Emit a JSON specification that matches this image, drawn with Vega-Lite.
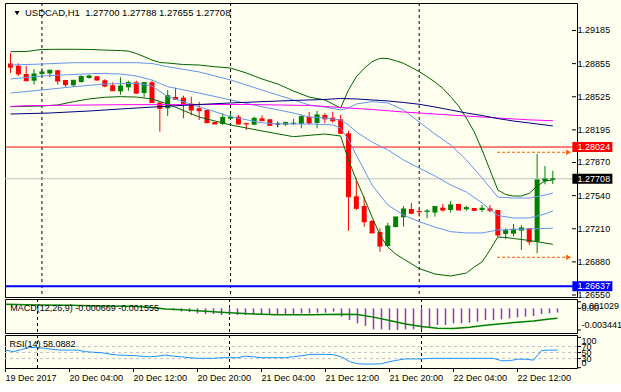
{
"$schema": "https://vega.github.io/schema/vega-lite/v6.json",
"background": "#FFFFF0",
"padding": {"left": 2, "top": 2, "right": 0, "bottom": 0},
"bounds": "flush",
"spacing": 2,
"config": {
  "view": {"stroke": "#000000", "strokeWidth": 1}
},
"datasets": {
  "seps": [{"i": 4}, {"i": 28}, {"i": 52}],
  "candles": [
    {"i":0,"o":1.28856,"h":1.28961,"l":1.28762,"c":1.28821},
    {"i":1,"o":1.28834,"h":1.28858,"l":1.28732,"c":1.28752},
    {"i":2,"o":1.28752,"h":1.28834,"l":1.28679,"c":1.28685},
    {"i":3,"o":1.28685,"h":1.28801,"l":1.28645,"c":1.28752},
    {"i":4,"o":1.28752,"h":1.28808,"l":1.28719,"c":1.28772},
    {"i":5,"o":1.28757,"h":1.28792,"l":1.28719,"c":1.28789},
    {"i":6,"o":1.28789,"h":1.28792,"l":1.28647,"c":1.28682},
    {"i":7,"o":1.28692,"h":1.28694,"l":1.28625,"c":1.28645},
    {"i":8,"o":1.28639,"h":1.28691,"l":1.28625,"c":1.28689},
    {"i":9,"o":1.28672,"h":1.28739,"l":1.28665,"c":1.28725},
    {"i":10,"o":1.28712,"h":1.28745,"l":1.28705,"c":1.28732},
    {"i":11,"o":1.28729,"h":1.28731,"l":1.28685,"c":1.28692},
    {"i":12,"o":1.28689,"h":1.28699,"l":1.28619,"c":1.28632},
    {"i":13,"o":1.28639,"h":1.28669,"l":1.28584,"c":1.28585},
    {"i":14,"o":1.28579,"h":1.28719,"l":1.28545,"c":1.28632},
    {"i":15,"o":1.28619,"h":1.28685,"l":1.28585,"c":1.28665},
    {"i":16,"o":1.28669,"h":1.28685,"l":1.28552,"c":1.28562},
    {"i":17,"o":1.28562,"h":1.28666,"l":1.28520,"c":1.28665},
    {"i":18,"o":1.28669,"h":1.28685,"l":1.28467,"c":1.28468},
    {"i":19,"o":1.28468,"h":1.28470,"l":1.28177,"c":1.28410},
    {"i":20,"o":1.28410,"h":1.28592,"l":1.28333,"c":1.28535},
    {"i":21,"o":1.28523,"h":1.28615,"l":1.28493,"c":1.28500},
    {"i":22,"o":1.28516,"h":1.28536,"l":1.28310,"c":1.28460},
    {"i":23,"o":1.28456,"h":1.28526,"l":1.28340,"c":1.28393},
    {"i":24,"o":1.28410,"h":1.28473,"l":1.28293,"c":1.28386},
    {"i":25,"o":1.28393,"h":1.28394,"l":1.28261,"c":1.28267},
    {"i":26,"o":1.28274,"h":1.28275,"l":1.28253,"c":1.28254},
    {"i":27,"o":1.28254,"h":1.28360,"l":1.28241,"c":1.28320},
    {"i":28,"o":1.28306,"h":1.28360,"l":1.28300,"c":1.28323},
    {"i":29,"o":1.28326,"h":1.28344,"l":1.28244,"c":1.28254},
    {"i":30,"o":1.28261,"h":1.28262,"l":1.28194,"c":1.28254},
    {"i":31,"o":1.28247,"h":1.28326,"l":1.28241,"c":1.28310},
    {"i":32,"o":1.28310,"h":1.28340,"l":1.28285,"c":1.28286},
    {"i":33,"o":1.28300,"h":1.28301,"l":1.28234,"c":1.28241},
    {"i":34,"o":1.28254,"h":1.28277,"l":1.28221,"c":1.28254},
    {"i":35,"o":1.28247,"h":1.28277,"l":1.28234,"c":1.28267},
    {"i":36,"o":1.28254,"h":1.28304,"l":1.28244,"c":1.28261},
    {"i":37,"o":1.28254,"h":1.28344,"l":1.28211,"c":1.28326},
    {"i":38,"o":1.28326,"h":1.28373,"l":1.28244,"c":1.28264},
    {"i":39,"o":1.28264,"h":1.28383,"l":1.28211,"c":1.28344},
    {"i":40,"o":1.28344,"h":1.28360,"l":1.28261,"c":1.28306},
    {"i":41,"o":1.28316,"h":1.28376,"l":1.28267,"c":1.28286},
    {"i":42,"o":1.28300,"h":1.28344,"l":1.28160,"c":1.28161},
    {"i":43,"o":1.28161,"h":1.28187,"l":1.27191,"c":1.27529},
    {"i":44,"o":1.27533,"h":1.27719,"l":1.27397,"c":1.27414},
    {"i":45,"o":1.27437,"h":1.27529,"l":1.27231,"c":1.27280},
    {"i":46,"o":1.27287,"h":1.27297,"l":1.27167,"c":1.27168},
    {"i":47,"o":1.27178,"h":1.27214,"l":1.26981,"c":1.27038},
    {"i":48,"o":1.27038,"h":1.27270,"l":1.27037,"c":1.27237},
    {"i":49,"o":1.27227,"h":1.27330,"l":1.27224,"c":1.27327},
    {"i":50,"o":1.27324,"h":1.27436,"l":1.27231,"c":1.27407},
    {"i":51,"o":1.27407,"h":1.27467,"l":1.27363,"c":1.27364},
    {"i":52,"o":1.27387,"h":1.27414,"l":1.27330,"c":1.27380},
    {"i":53,"o":1.27380,"h":1.27404,"l":1.27314,"c":1.27387},
    {"i":54,"o":1.27372,"h":1.27437,"l":1.27330,"c":1.27430},
    {"i":55,"o":1.27420,"h":1.27457,"l":1.27380,"c":1.27397},
    {"i":56,"o":1.27397,"h":1.27486,"l":1.27370,"c":1.27447},
    {"i":57,"o":1.27457,"h":1.27458,"l":1.27396,"c":1.27397},
    {"i":58,"o":1.27404,"h":1.27437,"l":1.27390,"c":1.27420},
    {"i":59,"o":1.27417,"h":1.27418,"l":1.27387,"c":1.27394},
    {"i":60,"o":1.27397,"h":1.27447,"l":1.27374,"c":1.27414},
    {"i":61,"o":1.27414,"h":1.27447,"l":1.27374,"c":1.27394},
    {"i":62,"o":1.27397,"h":1.27398,"l":1.27131,"c":1.27148},
    {"i":63,"o":1.27158,"h":1.27215,"l":1.27105,"c":1.27191},
    {"i":64,"o":1.27161,"h":1.27258,"l":1.27131,"c":1.27205},
    {"i":65,"o":1.27191,"h":1.27248,"l":1.26998,"c":1.27218},
    {"i":66,"o":1.27215,"h":1.27216,"l":1.27048,"c":1.27081},
    {"i":67,"o":1.27081,"h":1.27955,"l":1.26966,"c":1.27696},
    {"i":68,"o":1.27683,"h":1.27835,"l":1.27653,"c":1.27706},
    {"i":69,"o":1.27700,"h":1.27788,"l":1.27655,"c":1.27708}
  ],
  "lines": [
    {"s":"u2","i":0,"v":1.28974},{"s":"u2","i":2,"v":1.28976},{"s":"u2","i":4,"v":1.28996},{"s":"u2","i":6,"v":1.28998},{"s":"u2","i":8,"v":1.28998},{"s":"u2","i":10,"v":1.28996},{"s":"u2","i":12,"v":1.28990},{"s":"u2","i":14,"v":1.28985},{"s":"u2","i":15,"v":1.28980},{"s":"u2","i":16,"v":1.28955},{"s":"u2","i":17,"v":1.28925},{"s":"u2","i":18,"v":1.28891},{"s":"u2","i":19,"v":1.28866},{"s":"u2","i":20,"v":1.28861},{"s":"u2","i":22,"v":1.28846},{"s":"u2","i":24,"v":1.28841},{"s":"u2","i":26,"v":1.28824},{"s":"u2","i":28,"v":1.28811},{"s":"u2","i":30,"v":1.28762},{"s":"u2","i":32,"v":1.28702},{"s":"u2","i":34,"v":1.28652},{"s":"u2","i":36,"v":1.28582},{"s":"u2","i":38,"v":1.28522},{"s":"u2","i":40,"v":1.28493},{"s":"u2","i":41,"v":1.28453},{"s":"u2","i":42,"v":1.28413},{"s":"u2","i":43,"v":1.28592},{"s":"u2","i":44,"v":1.28725},{"s":"u2","i":45,"v":1.28808},{"s":"u2","i":46,"v":1.28874},{"s":"u2","i":47,"v":1.28908},{"s":"u2","i":48,"v":1.28906},{"s":"u2","i":49,"v":1.28884},{"s":"u2","i":50,"v":1.28858},{"s":"u2","i":51,"v":1.28818},{"s":"u2","i":52,"v":1.28775},{"s":"u2","i":53,"v":1.28725},{"s":"u2","i":54,"v":1.28672},{"s":"u2","i":55,"v":1.28609},{"s":"u2","i":56,"v":1.28525},{"s":"u2","i":57,"v":1.28433},{"s":"u2","i":58,"v":1.28313},{"s":"u2","i":59,"v":1.28174},{"s":"u2","i":60,"v":1.27995},{"s":"u2","i":61,"v":1.27795},{"s":"u2","i":62,"v":1.27596},{"s":"u2","i":63,"v":1.27551},{"s":"u2","i":64,"v":1.27536},{"s":"u2","i":65,"v":1.27536},{"s":"u2","i":66,"v":1.27563},{"s":"u2","i":67,"v":1.27636},{"s":"u2","i":68,"v":1.27686},{"s":"u2","i":69,"v":1.27696},
    {"s":"u1","i":0,"v":1.28841},{"s":"u1","i":4,"v":1.28851},{"s":"u1","i":8,"v":1.28864},{"s":"u1","i":12,"v":1.28864},{"s":"u1","i":16,"v":1.28864},{"s":"u1","i":18,"v":1.28856},{"s":"u1","i":20,"v":1.28824},{"s":"u1","i":24,"v":1.28772},{"s":"u1","i":28,"v":1.28692},{"s":"u1","i":32,"v":1.28592},{"s":"u1","i":36,"v":1.28493},{"s":"u1","i":38,"v":1.28443},{"s":"u1","i":40,"v":1.28423},{"s":"u1","i":42,"v":1.28393},{"s":"u1","i":43,"v":1.28413},{"s":"u1","i":44,"v":1.28453},{"s":"u1","i":46,"v":1.28476},{"s":"u1","i":48,"v":1.28463},{"s":"u1","i":50,"v":1.28393},{"s":"u1","i":52,"v":1.28273},{"s":"u1","i":54,"v":1.28154},{"s":"u1","i":56,"v":1.28044},{"s":"u1","i":58,"v":1.27895},{"s":"u1","i":60,"v":1.27716},{"s":"u1","i":62,"v":1.27526},{"s":"u1","i":64,"v":1.27516},{"s":"u1","i":66,"v":1.27516},{"s":"u1","i":68,"v":1.27546},{"s":"u1","i":69,"v":1.27566},
    {"s":"m","i":0,"v":1.28702},{"s":"m","i":4,"v":1.28732},{"s":"m","i":8,"v":1.28747},{"s":"m","i":11,"v":1.28757},{"s":"m","i":14,"v":1.28752},{"s":"m","i":16,"v":1.28732},{"s":"m","i":18,"v":1.28692},{"s":"m","i":20,"v":1.28625},{"s":"m","i":24,"v":1.28562},{"s":"m","i":28,"v":1.28493},{"s":"m","i":32,"v":1.28426},{"s":"m","i":36,"v":1.28363},{"s":"m","i":38,"v":1.28323},{"s":"m","i":40,"v":1.28313},{"s":"m","i":42,"v":1.28293},{"s":"m","i":43,"v":1.28244},{"s":"m","i":44,"v":1.28174},{"s":"m","i":46,"v":1.28074},{"s":"m","i":48,"v":1.27995},{"s":"m","i":50,"v":1.27895},{"s":"m","i":52,"v":1.27815},{"s":"m","i":54,"v":1.27736},{"s":"m","i":56,"v":1.27646},{"s":"m","i":58,"v":1.27576},{"s":"m","i":60,"v":1.27467},{"s":"m","i":62,"v":1.27342},{"s":"m","i":64,"v":1.27317},{"s":"m","i":66,"v":1.27317},{"s":"m","i":68,"v":1.27357},{"s":"m","i":69,"v":1.27387},
    {"s":"l1","i":0,"v":1.28562},{"s":"l1","i":4,"v":1.28592},{"s":"l1","i":8,"v":1.28625},{"s":"l1","i":12,"v":1.28652},{"s":"l1","i":16,"v":1.28659},{"s":"l1","i":18,"v":1.28632},{"s":"l1","i":20,"v":1.28526},{"s":"l1","i":24,"v":1.28426},{"s":"l1","i":28,"v":1.28326},{"s":"l1","i":32,"v":1.28266},{"s":"l1","i":34,"v":1.28254},{"s":"l1","i":38,"v":1.28254},{"s":"l1","i":41,"v":1.28244},{"s":"l1","i":42,"v":1.28214},{"s":"l1","i":43,"v":1.28094},{"s":"l1","i":44,"v":1.27945},{"s":"l1","i":45,"v":1.27795},{"s":"l1","i":46,"v":1.27646},{"s":"l1","i":47,"v":1.27546},{"s":"l1","i":48,"v":1.27447},{"s":"l1","i":50,"v":1.27347},{"s":"l1","i":52,"v":1.27280},{"s":"l1","i":54,"v":1.27227},{"s":"l1","i":56,"v":1.27181},{"s":"l1","i":58,"v":1.27168},{"s":"l1","i":60,"v":1.27168},{"s":"l1","i":62,"v":1.27198},{"s":"l1","i":64,"v":1.27203},{"s":"l1","i":66,"v":1.27208},{"s":"l1","i":68,"v":1.27213},{"s":"l1","i":69,"v":1.27215},
    {"s":"l2","i":0,"v":1.28426},{"s":"l2","i":4,"v":1.28433},{"s":"l2","i":6,"v":1.28443},{"s":"l2","i":8,"v":1.28476},{"s":"l2","i":10,"v":1.28503},{"s":"l2","i":12,"v":1.28520},{"s":"l2","i":14,"v":1.28526},{"s":"l2","i":16,"v":1.28522},{"s":"l2","i":18,"v":1.28503},{"s":"l2","i":20,"v":1.28453},{"s":"l2","i":24,"v":1.28323},{"s":"l2","i":28,"v":1.28244},{"s":"l2","i":32,"v":1.28184},{"s":"l2","i":36,"v":1.28127},{"s":"l2","i":40,"v":1.28154},{"s":"l2","i":42,"v":1.28134},{"s":"l2","i":43,"v":1.27895},{"s":"l2","i":44,"v":1.27696},{"s":"l2","i":45,"v":1.27516},{"s":"l2","i":46,"v":1.27327},{"s":"l2","i":47,"v":1.27148},{"s":"l2","i":48,"v":1.27028},{"s":"l2","i":49,"v":1.26958},{"s":"l2","i":50,"v":1.26909},{"s":"l2","i":52,"v":1.26814},{"s":"l2","i":54,"v":1.26759},{"s":"l2","i":56,"v":1.26739},{"s":"l2","i":58,"v":1.26769},{"s":"l2","i":59,"v":1.26829},{"s":"l2","i":60,"v":1.26879},{"s":"l2","i":61,"v":1.26998},{"s":"l2","i":62,"v":1.27128},{"s":"l2","i":63,"v":1.27123},{"s":"l2","i":64,"v":1.27113},{"s":"l2","i":66,"v":1.27093},{"s":"l2","i":68,"v":1.27068},{"s":"l2","i":69,"v":1.27055},
    {"s":"ma1","i":0,"v":1.28428},{"s":"ma1","i":2,"v":1.28436},{"s":"ma1","i":14,"v":1.28446},{"s":"ma1","i":30,"v":1.28448},{"s":"ma1","i":38,"v":1.28438},{"s":"ma1","i":42,"v":1.28418},{"s":"ma1","i":46,"v":1.28398},{"s":"ma1","i":50,"v":1.28373},{"s":"ma1","i":54,"v":1.28353},{"s":"ma1","i":58,"v":1.28333},{"s":"ma1","i":62,"v":1.28313},{"s":"ma1","i":66,"v":1.28295},{"s":"ma1","i":69,"v":1.28286},
    {"s":"ma2","i":0,"v":1.28353},{"s":"ma2","i":5,"v":1.28363},{"s":"ma2","i":10,"v":1.28383},{"s":"ma2","i":15,"v":1.28408},{"s":"ma2","i":19,"v":1.28426},{"s":"ma2","i":24,"v":1.28448},{"s":"ma2","i":28,"v":1.28463},{"s":"ma2","i":32,"v":1.28476},{"s":"ma2","i":36,"v":1.28488},{"s":"ma2","i":40,"v":1.28498},{"s":"ma2","i":42,"v":1.28508},{"s":"ma2","i":44,"v":1.28503},{"s":"ma2","i":46,"v":1.28493},{"s":"ma2","i":48,"v":1.28483},{"s":"ma2","i":50,"v":1.28468},{"s":"ma2","i":52,"v":1.28450},{"s":"ma2","i":54,"v":1.28423},{"s":"ma2","i":56,"v":1.28393},{"s":"ma2","i":58,"v":1.28363},{"s":"ma2","i":60,"v":1.28338},{"s":"ma2","i":62,"v":1.28308},{"s":"ma2","i":64,"v":1.28283},{"s":"ma2","i":66,"v":1.28264},{"s":"ma2","i":69,"v":1.28234}
  ],
  "pticks": [{"p":1.29185},{"p":1.28855},{"p":1.28525},{"p":1.28195},{"p":1.2787},{"p":1.2754},{"p":1.2721},{"p":1.2688},{"p":1.2655}],
  "tags": [{"p": 1.28024, "t": "1.28024"}, {"p": 1.27708, "t": "1.27708"}, {"p": 1.26637, "t": "1.26637"}],
  "arrows": [{"p": 1.27972}, {"p": 1.26926}],
  "hist": [
    {"i":21,"h":-0.0003},{"i":22,"h":-0.0005},{"i":23,"h":-0.0006},{"i":24,"h":-0.0008},{"i":25,"h":-0.0009},{"i":26,"h":-0.0009},{"i":27,"h":-0.00106},{"i":28,"h":-0.00106},{"i":29,"h":-0.00106},{"i":30,"h":-0.00106},{"i":31,"h":-0.0009},{"i":32,"h":-0.00106},{"i":33,"h":-0.00106},{"i":34,"h":-0.0009},{"i":35,"h":-0.0009},{"i":36,"h":-0.0009},{"i":37,"h":-0.00079},{"i":38,"h":-0.00079},{"i":39,"h":-0.0007},{"i":40,"h":-0.0007},{"i":41,"h":-0.00054},{"i":42,"h":-0.00133},{"i":43,"h":-0.00186},{"i":44,"h":-0.00238},{"i":45,"h":-0.00281},{"i":46,"h":-0.00333},{"i":47,"h":-0.00333},{"i":48,"h":-0.00344},{"i":49,"h":-0.00344},{"i":50,"h":-0.00333},{"i":51,"h":-0.00333},{"i":52,"h":-0.00333},{"i":53,"h":-0.00301},{"i":54,"h":-0.00265},{"i":55,"h":-0.00265},{"i":56,"h":-0.00238},{"i":57,"h":-0.00238},{"i":58,"h":-0.00228},{"i":59,"h":-0.00212},{"i":60,"h":-0.00186},{"i":61,"h":-0.00186},{"i":62,"h":-0.00174},{"i":63,"h":-0.00159},{"i":64,"h":-0.00143},{"i":65,"h":-0.00133},{"i":66,"h":-0.00122},{"i":67,"h":-0.0009},{"i":68,"h":-0.00079},{"i":69,"h":-0.00067}
  ],
  "sig": [
    {"i":0,"g":0.00063},{"i":4,"g":0.00052},{"i":8,"g":0.0005},{"i":12,"g":0.00036},{"i":16,"g":0.00032},{"i":18,"g":0.00016},{"i":20,"g":-0.00011},{"i":22,"g":-0.00022},{"i":24,"g":-0.00038},{"i":26,"g":-0.00054},{"i":28,"g":-0.0007},{"i":31,"g":-0.0009},{"i":34,"g":-0.00104},{"i":38,"g":-0.00104},{"i":42,"g":-0.00095},{"i":44,"g":-0.001},{"i":46,"g":-0.0014},{"i":48,"g":-0.00195},{"i":50,"g":-0.0025},{"i":52,"g":-0.0029},{"i":54,"g":-0.00315},{"i":56,"g":-0.0032},{"i":58,"g":-0.003},{"i":60,"g":-0.0027},{"i":62,"g":-0.00245},{"i":64,"g":-0.0022},{"i":66,"g":-0.002},{"i":68,"g":-0.0017},{"i":69,"g":-0.00156}
  ],
  "mticks": [{"v": 0.001029}, {"v": 0}, {"v": -0.003441}],
  "rsi": [
    {"i":0,"r":58},{"i":1,"r":53},{"i":2,"r":60},{"i":3,"r":67},{"i":4,"r":66},{"i":5,"r":64},{"i":6,"r":60},{"i":7,"r":58},{"i":8,"r":58},{"i":9,"r":58},{"i":10,"r":53},{"i":11,"r":51},{"i":12,"r":49.5},{"i":13,"r":45},{"i":14,"r":42},{"i":15,"r":41},{"i":16,"r":40},{"i":17,"r":38},{"i":18,"r":36},{"i":19,"r":38},{"i":20,"r":42},{"i":21,"r":38},{"i":22,"r":36},{"i":23,"r":33},{"i":24,"r":31},{"i":25,"r":31},{"i":26,"r":31},{"i":27,"r":33},{"i":28,"r":33},{"i":29,"r":33},{"i":30,"r":38},{"i":31,"r":36},{"i":32,"r":33},{"i":33,"r":33},{"i":34,"r":33},{"i":35,"r":33},{"i":36,"r":37},{"i":37,"r":39},{"i":38,"r":44},{"i":39,"r":44},{"i":40,"r":44},{"i":41,"r":43},{"i":42,"r":36},{"i":43,"r":20},{"i":44,"r":13},{"i":45,"r":12},{"i":46,"r":12},{"i":47,"r":13},{"i":48,"r":20},{"i":49,"r":25},{"i":50,"r":29},{"i":51,"r":29},{"i":52,"r":29},{"i":53,"r":31},{"i":54,"r":31},{"i":55,"r":31},{"i":56,"r":31},{"i":57,"r":31},{"i":58,"r":31},{"i":59,"r":31},{"i":60,"r":31},{"i":61,"r":31},{"i":62,"r":23},{"i":63,"r":23},{"i":64,"r":28},{"i":65,"r":28},{"i":66,"r":25},{"i":67,"r":57},{"i":68,"r":58},{"i":69,"r":58.09}
  ],
  "levels": [{"lv": 70}, {"lv": 50}, {"lv": 30}],
  "rticks": [{"lv": 100}, {"lv": 70}, {"lv": 50}, {"lv": 30}, {"lv": 0}],
  "rmid": [{"lv": 70}, {"lv": 50}, {"lv": 30}],
  "xlab": [{"i":0,"lab":"19 Dec 2017"},{"i":8,"lab":"20 Dec 04:00"},{"i":16,"lab":"20 Dec 12:00"},{"i":24,"lab":"20 Dec 20:00"},{"i":32,"lab":"21 Dec 04:00"},{"i":40,"lab":"21 Dec 12:00"},{"i":48,"lab":"21 Dec 20:00"},{"i":56,"lab":"22 Dec 04:00"},{"i":64,"lab":"22 Dec 12:00"}],
  "one": [{}]
},
"vconcat": [
  {
    "width": 572, "height": 294,
    "layer": [
      {"data": {"name": "seps"}, "mark": {"type": "rule", "color": "#000000", "strokeDash": [3, 3]},
       "encoding": {"x": {"field": "i", "type": "quantitative", "scale": {"domain": [-0.0625, 71.4375], "nice": false, "zero": false}, "axis": null}}},
      {"data": {"name": "candles"}, "mark": {"type": "rule", "clip": true},
       "encoding": {"x": {"field": "i", "type": "quantitative", "axis": null},
         "y": {"field": "l", "type": "quantitative", "scale": {"domain": [1.265301, 1.294589], "nice": false, "zero": false}, "axis": null},
         "y2": {"field": "h"},
         "color": {"condition": [{"test": "datum.c > datum.o", "value": "#008000"}, {"test": "datum.c < datum.o", "value": "#FF0000"}], "value": "#000000"}}},
      {"data": {"name": "one"}, "mark": {"type": "rule", "color": "#C0C0C0"},
       "encoding": {"y": {"datum": 1.27708, "type": "quantitative", "axis": null}}},
      {"data": {"name": "one"}, "mark": {"type": "rule", "color": "#FF0000"},
       "encoding": {"y": {"datum": 1.28024, "type": "quantitative", "axis": null}}},
      {"data": {"name": "one"}, "mark": {"type": "rule", "color": "#0000FF", "strokeWidth": 2},
       "encoding": {"y": {"datum": 1.26637, "type": "quantitative", "axis": null}}},
      {"data": {"name": "candles"}, "mark": {"type": "bar", "clip": true, "width": 5},
       "encoding": {"x": {"field": "i", "type": "quantitative", "axis": null}, "y": {"field": "o", "type": "quantitative", "axis": null}, "y2": {"field": "c"},
         "color": {"condition": [{"test": "datum.c > datum.o", "value": "#008000"}, {"test": "datum.c < datum.o", "value": "#FF0000"}], "value": "#000000"}}},
      {"data": {"name": "candles"}, "mark": {"type": "tick", "orient": "horizontal", "size": 5, "thickness": 1, "clip": true, "opacity": 1},
       "encoding": {"x": {"field": "i", "type": "quantitative", "axis": null}, "y": {"field": "c", "type": "quantitative", "axis": null},
         "color": {"condition": [{"test": "datum.c > datum.o", "value": "#008000"}, {"test": "datum.c < datum.o", "value": "#FF0000"}], "value": "#000000"}}},
      {"data": {"name": "lines"}, "mark": {"type": "line", "strokeWidth": 1, "clip": true},
       "encoding": {"x": {"field": "i", "type": "quantitative", "axis": null}, "y": {"field": "v", "type": "quantitative", "axis": null},
         "color": {"field": "s", "type": "nominal", "legend": null, "scale": {"domain": ["u2", "u1", "m", "l1", "l2", "ma1", "ma2"], "range": ["#006400", "#6495ED", "#6495ED", "#6495ED", "#006400", "#FF00FF", "#000080"]}}}},
      {"data": {"name": "arrows"}, "mark": {"type": "rule", "color": "#FF5A00", "strokeDash": [3, 2]},
       "encoding": {"x": {"datum": 61.9, "type": "quantitative", "axis": null}, "x2": {"datum": 70.9}, "y": {"field": "p", "type": "quantitative", "axis": null}}},
      {"data": {"name": "arrows"}, "mark": {"type": "point", "shape": "triangle-right", "filled": true, "size": 30, "color": "#FF5A00", "opacity": 1},
       "encoding": {"x": {"datum": 71.0, "type": "quantitative", "axis": null}, "y": {"field": "p", "type": "quantitative", "axis": null}}},
      {"data": {"name": "pticks"}, "mark": {"type": "rule", "color": "#000000", "clip": false},
       "encoding": {"x": {"datum": 71.4375, "type": "quantitative", "axis": null}, "x2": {"datum": 71.9375}, "y": {"field": "p", "type": "quantitative", "axis": null}}},
      {"data": {"name": "pticks"}, "mark": {"type": "text", "align": "left", "baseline": "middle", "color": "#000000", "font": "Liberation Sans", "fontSize": 9, "clip": false},
       "encoding": {"x": {"datum": 72.15, "type": "quantitative", "axis": null}, "y": {"field": "p", "type": "quantitative", "axis": null}, "text": {"field": "p", "type": "quantitative", "format": ".5f"}}},
      {"data": {"name": "tags"}, "mark": {"type": "point", "shape": "M-1,-0.25H1V0.25H-1Z", "filled": true, "size": 1600, "opacity": 1, "strokeWidth": 0, "clip": false},
       "encoding": {"x": {"datum": 74.03, "type": "quantitative", "axis": null}, "y": {"field": "p", "type": "quantitative", "axis": null},
         "color": {"condition": [{"test": "datum.t == '1.28024'", "value": "#FF0000"}, {"test": "datum.t == '1.27708'", "value": "#000000"}], "value": "#0000FF"}}},
      {"data": {"name": "tags"}, "mark": {"type": "text", "align": "left", "baseline": "middle", "color": "#FFFFFF", "font": "Liberation Sans", "fontSize": 9, "clip": false},
       "encoding": {"x": {"datum": 72.15, "type": "quantitative", "axis": null}, "y": {"field": "p", "type": "quantitative", "axis": null}, "text": {"field": "t"}}},
      {"data": {"name": "one"}, "mark": {"type": "point", "shape": "triangle-down", "filled": true, "size": 24, "color": "#000000", "opacity": 1},
       "encoding": {"x": {"datum": 0.84, "type": "quantitative", "axis": null}, "y": {"datum": 1.29359, "type": "quantitative", "axis": null}}},
      {"data": {"name": "one"}, "mark": {"type": "text", "align": "left", "baseline": "middle", "color": "#000000", "font": "Liberation Sans", "fontSize": 9.5, "text": "USDCAD,H1\u00a0 1.27700 1.27788 1.27655 1.27708"},
       "encoding": {"x": {"datum": 1.84, "type": "quantitative", "axis": null}, "y": {"datum": 1.29359, "type": "quantitative", "axis": null}}}
    ]
  },
  {
    "width": 572, "height": 34,
    "layer": [
      {"data": {"name": "seps"}, "mark": {"type": "rule", "color": "#000000", "strokeDash": [3, 3]},
       "encoding": {"x": {"field": "i", "type": "quantitative", "scale": {"domain": [-0.0625, 71.4375], "nice": false, "zero": false}, "axis": null}}},
      {"data": {"name": "hist"}, "mark": {"type": "rule", "color": "#9932CC", "strokeWidth": 1.5},
       "encoding": {"x": {"field": "i", "type": "quantitative", "axis": null},
         "y": {"field": "h", "type": "quantitative", "scale": {"domain": [-0.003916, 0.001475], "nice": false, "zero": false}, "axis": null},
         "y2": {"datum": 0}}},
      {"data": {"name": "sig"}, "mark": {"type": "line", "color": "#008000", "strokeWidth": 1.5},
       "encoding": {"x": {"field": "i", "type": "quantitative", "axis": null}, "y": {"field": "g", "type": "quantitative", "axis": null}}},
      {"data": {"name": "mticks"}, "mark": {"type": "rule", "color": "#000000", "clip": false},
       "encoding": {"x": {"datum": 71.4375, "type": "quantitative", "axis": null}, "x2": {"datum": 71.9375}, "y": {"field": "v", "type": "quantitative", "axis": null}}},
      {"data": {"name": "one"}, "mark": {"type": "text", "align": "left", "baseline": "top", "color": "#000000", "font": "Liberation Sans", "fontSize": 9, "text": "0.001029"},
       "encoding": {"x": {"datum": 72.0, "type": "quantitative", "axis": null}, "y": {"datum": 0.001029, "type": "quantitative", "axis": null}}},
      {"data": {"name": "one"}, "mark": {"type": "text", "align": "left", "baseline": "middle", "color": "#000000", "font": "Liberation Sans", "fontSize": 9, "text": "0.00"},
       "encoding": {"x": {"datum": 72.0, "type": "quantitative", "axis": null}, "y": {"datum": 0, "type": "quantitative", "axis": null}}},
      {"data": {"name": "one"}, "mark": {"type": "text", "align": "left", "baseline": "bottom", "color": "#000000", "font": "Liberation Sans", "fontSize": 9, "text": "-0.003441"},
       "encoding": {"x": {"datum": 72.0, "type": "quantitative", "axis": null}, "y": {"datum": -0.003441, "type": "quantitative", "axis": null}}},
      {"data": {"name": "one"}, "mark": {"type": "text", "align": "left", "baseline": "middle", "color": "#000000", "font": "Liberation Sans", "fontSize": 9, "text": "MACD(12,26,9) -0.000669 -0.001555"},
       "encoding": {"x": {"datum": 0.6, "type": "quantitative", "axis": null}, "y": {"datum": 0, "type": "quantitative", "axis": null}}}
    ]
  },
  {
    "width": 572, "height": 33,
    "layer": [
      {"data": {"name": "seps"}, "mark": {"type": "rule", "color": "#000000", "strokeDash": [3, 3]},
       "encoding": {"x": {"field": "i", "type": "quantitative", "scale": {"domain": [-0.0625, 71.4375], "nice": false, "zero": false}, "axis": null}}},
      {"data": {"name": "levels"}, "mark": {"type": "rule", "color": "#C0C0C0", "strokeDash": [3, 3]},
       "encoding": {"y": {"field": "lv", "type": "quantitative", "scale": {"domain": [-1, 108], "nice": false, "zero": false}, "axis": null}}},
      {"data": {"name": "rsi"}, "mark": {"type": "line", "color": "#1E90FF", "strokeWidth": 1},
       "encoding": {"x": {"field": "i", "type": "quantitative", "axis": null}, "y": {"field": "r", "type": "quantitative", "axis": null}}},
      {"data": {"name": "rticks"}, "mark": {"type": "rule", "color": "#000000", "clip": false},
       "encoding": {"x": {"datum": 71.4375, "type": "quantitative", "axis": null}, "x2": {"datum": 71.9375}, "y": {"field": "lv", "type": "quantitative", "axis": null}}},
      {"data": {"name": "rmid"}, "mark": {"type": "text", "align": "left", "baseline": "middle", "color": "#000000", "font": "Liberation Sans", "fontSize": 9, "clip": false},
       "encoding": {"x": {"datum": 72.0, "type": "quantitative", "axis": null}, "y": {"field": "lv", "type": "quantitative", "axis": null}, "text": {"field": "lv", "type": "quantitative"}}},
      {"data": {"name": "one"}, "mark": {"type": "text", "align": "left", "baseline": "top", "color": "#000000", "font": "Liberation Sans", "fontSize": 9, "text": "100"},
       "encoding": {"x": {"datum": 72.0, "type": "quantitative", "axis": null}, "y": {"datum": 100, "type": "quantitative", "axis": null}}},
      {"data": {"name": "one"}, "mark": {"type": "text", "align": "left", "baseline": "bottom", "color": "#000000", "font": "Liberation Sans", "fontSize": 9, "text": "0"},
       "encoding": {"x": {"datum": 72.0, "type": "quantitative", "axis": null}, "y": {"datum": 0, "type": "quantitative", "axis": null}}},
      {"data": {"name": "xlab"}, "mark": {"type": "rule", "color": "#000000", "clip": false},
       "encoding": {"x": {"field": "i", "type": "quantitative", "axis": null}, "y": {"datum": -1, "type": "quantitative", "axis": null}, "y2": {"datum": -14.2}}},
      {"data": {"name": "xlab"}, "mark": {"type": "text", "align": "left", "baseline": "top", "color": "#000000", "font": "Liberation Sans", "fontSize": 9, "clip": false},
       "encoding": {"x": {"field": "i", "type": "quantitative", "axis": null}, "y": {"datum": -19.2, "type": "quantitative", "axis": null}, "text": {"field": "lab"}}},
      {"data": {"name": "one"}, "mark": {"type": "text", "align": "left", "baseline": "middle", "color": "#000000", "font": "Liberation Sans", "fontSize": 9, "text": "RSI(14) 58.0882"},
       "encoding": {"x": {"datum": 0.5, "type": "quantitative", "axis": null}, "y": {"datum": 79, "type": "quantitative", "axis": null}}}
    ]
  }
]
}
